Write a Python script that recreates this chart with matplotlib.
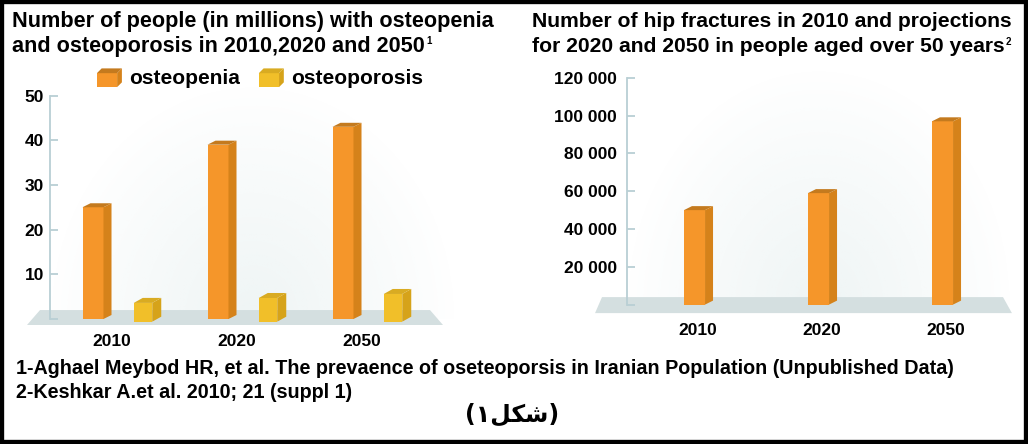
import numpy as np
import matplotlib
matplotlib.use('Agg')
import matplotlib.pyplot as plt
from matplotlib.patches import Polygon, Rectangle, Patch
from matplotlib.legend_handler import HandlerBase
from matplotlib.ticker import FuncFormatter

# data
years = ['2010', '2020', '2050']
osteopenia = [25, 39, 43]
osteoporosis = [4.2, 5.3, 6.2]
hip_fractures = [50000, 59000, 97000]
left_ticks = [0, 10, 20, 30, 40, 50]
right_ticks = [0, 20000, 40000, 60000, 80000, 100000, 120000]

ORANGE = ('#f5962a', '#d5821a', '#c47a1e')
YELLOW = ('#f1bf29', '#d6a31a', '#d9ab22')
AXCOL = '#b9cfd4'
FLOOR = '#d4dfe0'

plt.rcParams['font.family'] = ['Liberation Sans', 'DejaVu Sans']
plt.rcParams['font.weight'] = 'bold'

W, H = 1028, 444
fig = plt.figure(figsize=(W / 100, H / 100), dpi=100)
fig.patch.set_facecolor('white')


def px_axes(x0, y0, x1, y1):
    return fig.add_axes([x0 / W, 1 - y1 / H, (x1 - x0) / W, (y1 - y0) / H])


def px_per_unit(ax):
    pos = ax.get_position()
    x0, x1 = ax.get_xlim()
    y0, y1 = ax.get_ylim()
    return pos.width * W / (x1 - x0), pos.height * H / (y1 - y0)


def bar3d(ax, xs, vals, width, depth, colors, base=0.0):
    ppx, ppy = px_per_unit(ax)
    dx, dy = depth[0] / ppx, depth[1] / ppy
    ax.bar(xs, vals, width, bottom=base, color=colors[0], zorder=3)
    for x, v in zip(xs, vals):
        r = x + width / 2
        l = x - width / 2
        t = base + v
        ax.add_patch(Polygon([(r, base), (r + dx, base + dy), (r + dx, t + dy), (r, t)],
                             closed=True, fc=colors[1], ec='none', zorder=3))
        ax.add_patch(Polygon([(l, t), (r, t), (r + dx, t + dy), (l + dx, t + dy)],
                             closed=True, fc=colors[2], ec='none', zorder=3))


def backdrop(ax, x0, x1, y0, y1):
    # faint bluish glow behind the bars
    ny, nx = 200, 300
    gx, gy = np.meshgrid(np.linspace(-1, 1, nx), np.linspace(0, 1, ny))
    r = np.sqrt(gx ** 2 + gy ** 2)
    img = np.zeros((ny, nx, 4))
    img[..., :3] = np.array([228, 238, 238]) / 255
    img[..., 3] = np.clip(1 - r, 0, 1) ** 0.9 * 0.6
    ax.imshow(img, extent=(x0, x1, y0, y1), origin='lower', aspect='auto', zorder=0)


def floor(ax, pts):
    ax.add_patch(Polygon(pts, closed=True, fc=FLOOR, ec='none', zorder=1, clip_on=False))


def style_axes(ax, spine_x, top, pad, fmt):
    for s in ['top', 'right', 'bottom']:
        ax.spines[s].set_visible(False)
    ax.spines['left'].set_position(('data', spine_x))
    ax.spines['left'].set_bounds(0, top)
    ax.spines['left'].set_color(AXCOL)
    ax.spines['left'].set_linewidth(1.3)
    ax.spines['left'].set_zorder(2)
    ax.tick_params(axis='y', direction='in', length=6, width=1.3, color=AXCOL,
                   pad=pad, labelsize=12.5)
    ax.tick_params(axis='x', length=0, labelsize=12.5, pad=6)
    ax.yaxis.set_major_formatter(FuncFormatter(fmt))
    ax.set_facecolor('none')


class CubeHandler(HandlerBase):
    def __init__(self, colors):
        super().__init__()
        self.colors = colors

    def create_artists(self, legend, orig_handle, xdescent, ydescent, width, height, fontsize, trans):
        x0, y0 = -xdescent, -ydescent - 2
        d = height * 0.3
        w, h = width - d, height - d + 2
        c = self.colors
        front = Rectangle((x0, y0), w, h, fc=c[0], ec='none', transform=trans)
        side = Polygon([(x0 + w, y0), (x0 + w + d, y0 + d), (x0 + w + d, y0 + h + d), (x0 + w, y0 + h)],
                       closed=True, fc=c[1], ec='none', transform=trans)
        topf = Polygon([(x0, y0 + h), (x0 + w, y0 + h), (x0 + w + d, y0 + h + d), (x0 + d, y0 + h + d)],
                       closed=True, fc=c[2], ec='none', transform=trans)
        return [front, side, topf]


# ---- left chart: osteopenia / osteoporosis ----
axl = px_axes(20, 85, 455, 326)
axl.set_xlim(-0.584, 2.896)
axl.set_ylim(-1.566, 52.35)
xl = np.arange(len(years))
style_axes(axl, -0.344, 50, 4.3, lambda v, p: '' if v == 0 else f'{v:.0f}')
axl.set_yticks(left_ticks)
backdrop(axl, -0.344, 2.9, 0, 52)
floor(axl, [(-0.528, -1.34), (2.8, -1.34), (2.696, 2.0), (-0.424, 2.0)])
bar3d(axl, xl, osteopenia, 0.168, (8, 4), ORANGE)
bar3d(axl, xl + 0.4, osteoporosis, 0.148, (9, 5), YELLOW, base=-0.6)
axl.set_xticks(xl + 0.15)
axl.set_xticklabels(years)

h1 = Patch(facecolor=ORANGE[0])
h2 = Patch(facecolor=YELLOW[0])
fig.legend([h1, h2], ['osteopenia', 'osteoporosis'], loc='center',
           bbox_to_anchor=(260 / W, 1 - 78 / H), ncol=2, frameon=False,
           prop={'size': 15, 'weight': 'bold'}, handlelength=1.2, handleheight=0.8,
           handletextpad=0.35, columnspacing=0.9,
           handler_map={h1: CubeHandler(ORANGE), h2: CubeHandler(YELLOW)})

# ---- right chart: hip fractures ----
axr = px_axes(585, 65, 1020, 315)
axr.set_xlim(-0.883, 2.625)
axr.set_ylim(-5500, 126800)
xr = np.arange(len(years))
style_axes(axr, -0.544, 120000, 7.2, lambda v, p: '' if v == 0 else f'{v:,.0f}'.replace(',', ' '))
axr.set_yticks(right_ticks)
backdrop(axr, -0.544, 2.55, 0, 124000)
floor(axr, [(-0.802, -4500), (2.56, -4500), (2.488, 3970), (-0.746, 3970)])
bar3d(axr, xr, hip_fractures, 0.17, (8, 4), ORANGE)
axr.set_xticks(xr + 0.03)
axr.set_xticklabels(years)

# ---- titles ----
t1 = fig.text(12 / W, 1 - 27 / H, 'Number of people (in millions) with osteopenia', fontsize=15.6, va='baseline')
t2 = fig.text(12 / W, 1 - 52 / H, 'and osteoporosis in 2010,2020 and 2050', fontsize=15.6, va='baseline')
t3 = fig.text(532 / W, 1 - 27 / H, 'Number of hip fractures in 2010 and projections', fontsize=15.2, va='baseline')
t4 = fig.text(532 / W, 1 - 52 / H, 'for 2020 and 2050 in people aged over 50 years', fontsize=15.2, va='baseline')
for t, s in [(t2, '1'), (t4, '2')]:
    axl.annotate(s, xy=(1, 1), xycoords=t, xytext=(1, 0), textcoords='offset points',
                 va='top', ha='left', fontsize=7, annotation_clip=False)

# ---- footnotes ----
fig.text(16 / W, 1 - 368 / H,
         '1-Aghael Meybod HR, et al. The prevaence of oseteoporsis in Iranian Population (Unpublished Data)',
         fontsize=14.2, va='center')
fig.text(16 / W, 1 - 393 / H, '2-Keshkar A.et al. 2010; 21 (suppl 1)', fontsize=14.2, va='center')
# Arabic caption, glyphs in visual order (presentation forms)
fig.text(512 / W, 1 - 415 / H, '(\u06F1\uFEDE\uFEDC\uFEB7)', fontsize=17, ha='center', va='center',
         family=['DejaVu Sans'])

# black frame
fig.add_artist(Rectangle((0, 0), 1, 1, transform=fig.transFigure, fill=False, ec='black', lw=6))

fig.savefig('out.png', dpi=100)
